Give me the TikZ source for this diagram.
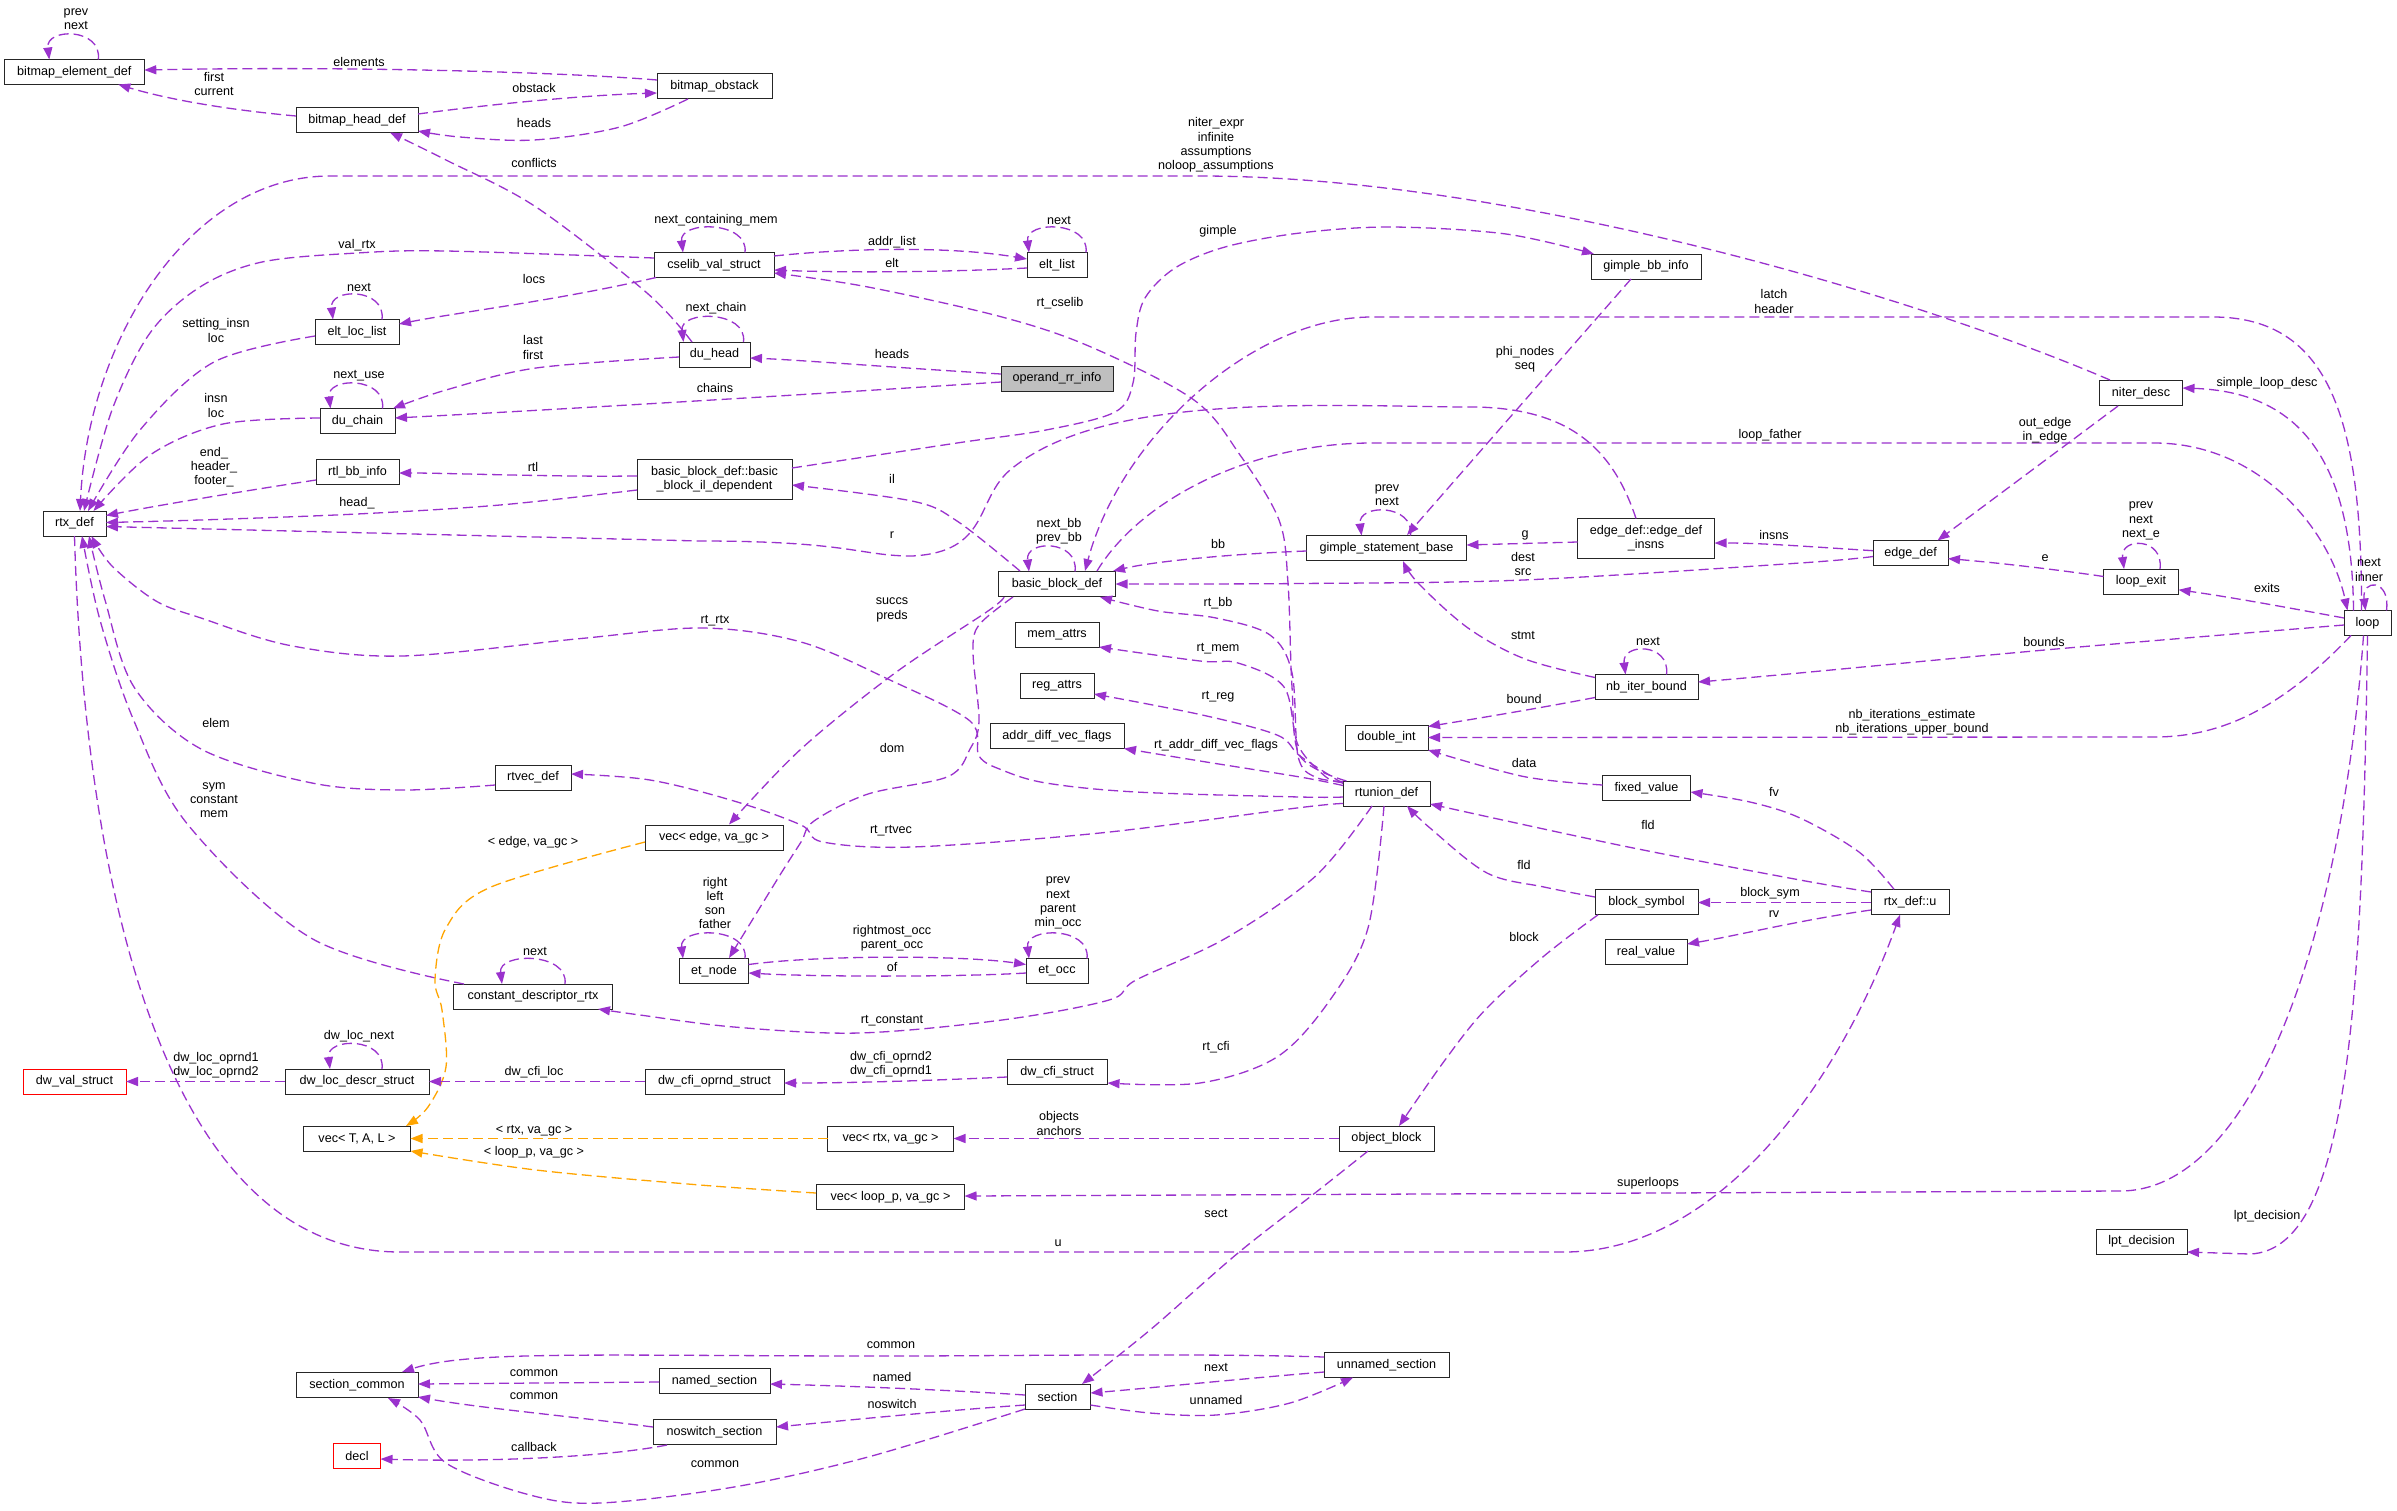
\documentclass[tikz,border=0pt]{standalone}
\usepackage{fontspec}
\setmainfont{Liberation Sans}
\usetikzlibrary{arrows.meta}
\definecolor{pc}{HTML}{9A32CD}
\definecolor{oc}{HTML}{FFA500}
\newcommand\nfont{\fontsize{12.6}{14.2}\selectfont}
\begin{document}
\begin{tikzpicture}[x=1pt,y=-1pt,
 box/.style={draw=black!85, line width=1pt, fill=white, minimum height=25pt, inner sep=0pt, font=\nfont, align=center},
 box2/.style={box, minimum height=40pt},
 pe/.style={draw=pc, line width=1.3pt, dash pattern=on 10pt off 5pt, -{Triangle[length=12pt,width=9pt]}},
 oe/.style={pe, draw=oc},
 lb/.style={font=\nfont, inner sep=0pt, align=center},
 sm/.style={smooth, tension=0.55}]
\useasboundingbox (0,0) rectangle (2397,1510);
\fill[white] (0,0) rectangle (2397,1510);
% ---------------- nodes
\node[box,minimum width=140pt] (bed) at (74.3,72) {bitmap\_element\_def};
\node[box,minimum width=122pt] (bhd) at (357,120) {bitmap\_head\_def};
\node[box,minimum width=115pt] (obst) at (714.5,86) {bitmap\_obstack};
\node[box,minimum width=120pt] (cselib) at (714,265) {cselib\_val\_struct};
\node[box,minimum width=60pt] (eltlist) at (1057,265) {elt\_list};
\node[box,minimum width=84pt] (eltloc) at (357,332) {elt\_loc\_list};
\node[box,minimum width=71pt] (duhead) at (714.5,354.5) {du\_head};
\node[box,minimum width=75pt] (duchain) at (357.5,421) {du\_chain};
\node[box,minimum width=112pt,fill={rgb,255:red,191;green,191;blue,191}] (opr) at (1057,378.5) {operand\_rr\_info};
\node[box,minimum width=83pt] (rtlbb) at (357.5,472) {rtl\_bb\_info};
\node[box2,minimum width=155pt] (bbil) at (714.5,479) {basic\_block\_def::basic\\\_block\_il\_dependent};
\node[box,minimum width=63pt] (rtx) at (74.5,523.5) {rtx\_def};
\node[box,minimum width=110pt] (gbi) at (1646,266.5) {gimple\_bb\_info};
\node[box,minimum width=83pt] (niter) at (2141,393) {niter\_desc};
\node[box,minimum width=117pt] (bbd) at (1057,584) {basic\_block\_def};
\node[box,minimum width=160pt] (gsb) at (1386.5,548) {gimple\_statement\_base};
\node[box2,minimum width=137pt] (edi) at (1646,538.5) {edge\_def::edge\_def\\\_insns};
\node[box,minimum width=75pt] (edef) at (1910.5,553) {edge\_def};
\node[box,minimum width=75pt] (lexit) at (2141,581.5) {loop\_exit};
\node[box,minimum width=47pt] (loop) at (2367.5,623) {loop};
\node[box,minimum width=84pt] (mem) at (1057,634.5) {mem\_attrs};
\node[box,minimum width=74pt] (reg) at (1057,685.5) {reg\_attrs};
\node[box,minimum width=134pt] (adv) at (1057,736) {addr\_diff\_vec\_flags};
\node[box,minimum width=103pt] (nib) at (1646.5,687) {nb\_iter\_bound};
\node[box,minimum width=83pt] (dint) at (1386.5,737.5) {double\_int};
\node[box,minimum width=88pt] (fixv) at (1646.5,788) {fixed\_value};
\node[box,minimum width=87pt] (rtun) at (1386.5,793.5) {rtunion\_def};
\node[box,minimum width=76pt] (rtvec) at (533,777.5) {rtvec\_def};
\node[box,minimum width=138pt] (vedge) at (714,837.5) {vec< edge, va\_gc >};
\node[box,minimum width=103pt] (bsym) at (1646.5,902) {block\_symbol};
\node[box,minimum width=78pt] (rtxu) at (1910,902) {rtx\_def::u};
\node[box,minimum width=82pt] (realv) at (1646,952) {real\_value};
\node[box,minimum width=69pt] (etn) at (714,971) {et\_node};
\node[box,minimum width=62pt] (eto) at (1057,971) {et\_occ};
\node[box,minimum width=159pt] (cdr) at (533,996.5) {constant\_descriptor\_rtx};
\node[box,minimum width=103pt,draw=red] (dvs) at (74.5,1081.5) {dw\_val\_struct};
\node[box,minimum width=144pt] (dlds) at (357,1081.5) {dw\_loc\_descr\_struct};
\node[box,minimum width=139pt] (dcos) at (714.5,1081.5) {dw\_cfi\_oprnd\_struct};
\node[box,minimum width=100pt] (dcs) at (1057,1072) {dw\_cfi\_struct};
\node[box,minimum width=107pt] (vtal) at (357,1138.5) {vec< T, A, L >};
\node[box,minimum width=126pt] (vrtx) at (890.5,1138.5) {vec< rtx, va\_gc >};
\node[box,minimum width=95pt] (oblk) at (1386.5,1138.5) {object\_block};
\node[box,minimum width=148pt] (vloop) at (890.5,1197) {vec< loop\_p, va\_gc >};
\node[box,minimum width=91pt] (lpt) at (2141.5,1241.5) {lpt\_decision};
\node[box,minimum width=125pt] (usec) at (1386.5,1365) {unnamed\_section};
\node[box,minimum width=111pt] (nsec) at (714.5,1381) {named\_section};
\node[box,minimum width=122pt] (scom) at (357,1385) {section\_common};
\node[box,minimum width=65pt] (sec) at (1057.5,1397) {section};
\node[box,minimum width=123pt] (nssec) at (714.5,1432) {noswitch\_section};
\node[box,minimum width=47pt,draw=red] (decl) at (357,1456) {decl};
% ---------------- self loops
\draw[pe] ([shift={(24,-12.5)}]bed.center) .. controls +(4,-32) and +(-4,-32) .. ([shift={(-25,-12.5)}]bed.center);
\draw[pe] ([shift={(31,-12.5)}]cselib.center) .. controls +(4,-32) and +(-4,-32) .. ([shift={(-31,-12.5)}]cselib.center);
\draw[pe] ([shift={(29,-12.5)}]eltlist.center) .. controls +(4,-32) and +(-4,-32) .. ([shift={(-28,-12.5)}]eltlist.center);
\draw[pe] ([shift={(25,-12.5)}]eltloc.center) .. controls +(4,-32) and +(-4,-32) .. ([shift={(-24,-12.5)}]eltloc.center);
\draw[pe] ([shift={(29,-12.5)}]duhead.center) .. controls +(4,-32) and +(-4,-32) .. ([shift={(-31,-12.5)}]duhead.center);
\draw[pe] ([shift={(25,-12.5)}]duchain.center) .. controls +(4,-32) and +(-4,-32) .. ([shift={(-27,-12.5)}]duchain.center);
\draw[pe] ([shift={(18,-12.5)}]bbd.center) .. controls +(4,-32) and +(-4,-32) .. ([shift={(-28,-12.5)}]bbd.center);
\draw[pe] ([shift={(24,-12.5)}]gsb.center) .. controls +(4,-32) and +(-4,-32) .. ([shift={(-25,-12.5)}]gsb.center);
\draw[pe] ([shift={(20,-12.5)}]nib.center) .. controls +(4,-32) and +(-4,-32) .. ([shift={(-21,-12.5)}]nib.center);
\draw[pe] ([shift={(19,-12.5)}]lexit.center) .. controls +(4,-32) and +(-4,-32) .. ([shift={(-17,-12.5)}]lexit.center);
\draw[pe] ([shift={(19,-12.5)}]loop.center) .. controls +(4,-32) and +(-4,-32) .. ([shift={(-2,-12.5)}]loop.center);
\draw[pe] ([shift={(31,-12.5)}]etn.center) .. controls +(4,-32) and +(-4,-32) .. ([shift={(-31,-12.5)}]etn.center);
\draw[pe] ([shift={(30,-12.5)}]eto.center) .. controls +(4,-32) and +(-4,-32) .. ([shift={(-28,-12.5)}]eto.center);
\draw[pe] ([shift={(32,-12.5)}]cdr.center) .. controls +(4,-32) and +(-4,-32) .. ([shift={(-31,-12.5)}]cdr.center);
\draw[pe] ([shift={(25,-12.5)}]dlds.center) .. controls +(4,-32) and +(-4,-32) .. ([shift={(-27,-12.5)}]dlds.center);
% ---------------- edges
\draw[pe] ([shift={(-57.5,-6)}]obst.center) .. controls (560,72) and (350,66) .. ([shift={(70,-2)}]bed.center);
\draw[pe] ([shift={(-61,-4)}]bhd.center) .. controls (230,110) and (170,100) .. ([shift={(44,12.5)}]bed.center);
\draw[pe] ([shift={(61,-6)}]bhd.center) .. controls (500,103) and (590,95) .. ([shift={(-57.5,7)}]obst.center);
\draw[pe] plot[sm] coordinates {([shift={(-26.5,13)}]obst.center) (620,127) (534,140) (460,137) ([shift={(61,11)}]bhd.center)};
\draw[pe] plot[sm] coordinates {([shift={(-22.5,-12.5)}]duhead.center) (647,293) (536,207) (446,160) ([shift={(33,12.5)}]bhd.center)};
\draw[pe] ([shift={(-31,-13)}]niter.center) .. controls (1900,290) and (1500,176) .. (1200,176) -- (330,176) .. controls (190,176) and (88,340) .. ([shift={(5.5,-12.5)}]rtx.center);
\draw[pe] plot[sm] coordinates {([shift={(-60,-7)}]cselib.center) (446,251) (357,253) (262,262) (200,287) (150,333) (112,410) ([shift={(9.5,-12.5)}]rtx.center)};
\draw[pe] ([shift={(60,-9)}]cselib.center) .. controls (850,248) and (950,246) .. ([shift={(-30,-6)}]eltlist.center);
\draw[pe] ([shift={(-30,3)}]eltlist.center) .. controls (950,272) and (850,273) .. ([shift={(60,5)}]cselib.center);
\draw[pe] ([shift={(-58,12.5)}]cselib.center) .. controls (560,300) and (460,312) .. ([shift={(42,-8)}]eltloc.center);
\draw[pe] plot[sm] coordinates {([shift={(-42,4)}]eltloc.center) (214,362) (140,430) ([shift={(13.5,-12.5)}]rtx.center)};
\draw[pe] plot[sm] coordinates {([shift={(-35.5,2.5)}]duhead.center) (536,368) (446,390) ([shift={(35.5,-12.5)}]duchain.center)};
\draw[pe] plot[sm] coordinates {([shift={(-37.5,-3)}]duchain.center) (223,424) (150,455) ([shift={(19,-12.5)}]rtx.center)};
\draw[pe] ([shift={(-56,-4.5)}]opr.center) .. controls (900,368) and (800,360) .. ([shift={(35.5,3.5)}]duhead.center);
\draw[pe] ([shift={(-56,3.5)}]opr.center) .. controls (800,395) and (550,410) .. ([shift={(37.5,-3)}]duchain.center);
\draw[pe] ([shift={(-41.5,8)}]rtlbb.center) .. controls (250,490) and (160,505) .. ([shift={(31.5,-8)}]rtx.center);
\draw[pe] ([shift={(-77.5,-3)}]bbil.center) .. controls (550,477) and (450,473) .. ([shift={(41.5,1)}]rtlbb.center);
\draw[pe] plot[sm] coordinates {([shift={(-77.5,11)}]bbil.center) (500,505) (357,514) (200,520) ([shift={(31.5,-1)}]rtx.center)};
\draw[pe] ([shift={(-10,-20)}]edi.center) .. controls (1610,440) and (1560,405) .. (1460,407) .. controls (1300,405) and (1100,395) .. (1010,470) .. controls (975,500) and (990,552) .. (912,556) .. controls (860,556) and (850,541) .. (700,541) -- ([shift={(31.5,3)}]rtx.center);
\draw[pe] plot[sm] coordinates {([shift={(77.5,-11)}]bbil.center) (957,443) (1046,430) (1115,412) (1133,383) (1136,333) (1145,298) (1175,268) (1225,247) (1300,233) (1391,227) (1506,234) ([shift={(-52,-12.5)}]gbi.center)};
\draw[pe] plot[sm] coordinates {([shift={(-37,-13)}]bbd.center) (957,521) (912,501) ([shift={(77.5,6)}]bbil.center)};
\draw[pe] ([shift={(-6,-12.5)}]loop.center) .. controls (2362,420) and (2330,317) .. (2213,317) -- (1372,317) .. controls (1250,317) and (1120,440) .. ([shift={(28,-13)}]bbd.center);
\draw[pe] ([shift={(40,-13)}]bbd.center) .. controls (1140,500) and (1250,443) .. (1372,443) -- (2154,443) .. controls (2260,443) and (2330,530) .. ([shift={(-20,-12.5)}]loop.center);
\draw[pe] plot[sm] coordinates {([shift={(-37.5,3.5)}]edef.center) (1800,563) (1523,580) (1300,583.5) ([shift={(58.5,0)}]bbd.center)};
\draw[pe] ([shift={(-37.5,-2.3)}]edef.center) .. controls (1800,546) and (1760,543) .. ([shift={(68.5,4.5)}]edi.center);
\draw[pe] ([shift={(-80,3)}]gsb.center) .. controls (1250,553) and (1160,560) .. ([shift={(56,-13)}]bbd.center);
\draw[pe] plot[sm] coordinates {([shift={(-43.5,-12)}]rtun.center) (1315,777) (1298,756) (1292,673) (1270,635) (1216,618) (1158,611) ([shift={(43,13)}]bbd.center)};
\draw[pe] plot[sm] coordinates {([shift={(-43.5,-11)}]rtun.center) (1326,777) (1298,745) (1284,687) (1238,663) (1200,661) ([shift={(42,12.5)}]mem.center)};
\draw[pe] plot[sm] coordinates {([shift={(-43.5,-10)}]rtun.center) (1300,756) (1277,735) (1200,714.5) ([shift={(37,8.5)}]reg.center)};
\draw[pe] plot[sm] coordinates {([shift={(-43.5,-8)}]rtun.center) (1300,777) (1200,761) ([shift={(67,12.5)}]adv.center)};
\draw[pe] plot[sm] coordinates {([shift={(-43.5,3.5)}]rtun.center) (1300,797) (1136,792) (1046,783) (1002,770) (979,756) (970,721) (890,680) (801,642) (703,628) (580,638.6) (402,656) (290,645.5) (201,618) (156,601) (112,566) ([shift={(17,12.5)}]rtx.center)};
\draw[pe] plot[sm] coordinates {([shift={(-43.5,10)}]rtun.center) (1300,807.6) (1100,833) (912,847) (823,842) (801,825) (734,801) (650,780) ([shift={(38,-3.5)}]rtvec.center)};
\draw[pe] plot[sm] coordinates {([shift={(-14.5,12.5)}]rtun.center) (1315,876.6) (1225,938.6) (1136,980) (1109,1000) (1002,1020) (859,1033) (734,1027) (640,1015) ([shift={(65,12.5)}]cdr.center)};
\draw[pe] plot[sm] coordinates {([shift={(-2.5,12.5)}]rtun.center) (1368,928) (1330,1000) (1277,1057) (1200,1083) ([shift={(50.5,11)}]dcs.center)};
\draw[pe] plot[sm] coordinates {([shift={(-40,-12.5)}]rtun.center) (1300,756) (1292,687) (1288,583) (1279,520) (1240,455) (1194,400) (1091,347) (1002,317) (868,287) ([shift={(60,8)}]cselib.center)};
\draw[pe] plot[sm] coordinates {([shift={(-69,-12.5)}]cdr.center) (312,938.6) (188,824.8) (134,721) (100,620) ([shift={(7.5,12.5)}]rtx.center)};
\draw[pe] plot[sm] coordinates {([shift={(-38,7.5)}]rtvec.center) (402,790) (312,783) (201,749) (134,687) (105,600) ([shift={(14.5,12.5)}]rtx.center)};
\draw[pe] ([shift={(0,12.5)}]rtx.center) .. controls (85,900) and (170,1252) .. (400,1252) -- (1564,1252) .. controls (1720,1252) and (1840,1080) .. ([shift={(-10,12.8)}]rtxu.center);
\draw[pe] ([shift={(34.5,-6.5)}]etn.center) .. controls (820,955) and (960,955) .. ([shift={(-31,-6.5)}]eto.center);
\draw[pe] ([shift={(-31,2)}]eto.center) .. controls (960,977) and (820,977) .. ([shift={(34.5,2)}]etn.center);
\draw[pe] plot[sm] coordinates {([shift={(-53,13)}]bbd.center) (988,611) (895,673) (801,749) ([shift={(15,-13)}]vedge.center)};
\draw[pe] plot[sm] coordinates {([shift={(-44,13)}]bbd.center) (979,625) (973,652) (979,721) (970,749) (948,776.6) (868,794) (814,821) (801,842) (779,876.6) ([shift={(15,-13)}]etn.center)};
\draw[oe] plot[sm] coordinates {([shift={(-69,4.5)}]vedge.center) (491,887) (446,928) (435,980) (442,1010) (446,1067) (428,1107) ([shift={(49,-12.5)}]vtal.center)};
\draw[oe] ([shift={(-63,0)}]vrtx.center) -- ([shift={(53.5,0)}]vtal.center);
\draw[oe] plot[sm] coordinates {([shift={(-74.5,-4)}]vloop.center) (700,1185) (536,1170) ([shift={(53.5,12.5)}]vtal.center)};
\draw[pe] ([shift={(-72,0)}]dlds.center) -- ([shift={(51.5,0)}]dvs.center);
\draw[pe] ([shift={(-69.5,0)}]dcos.center) -- ([shift={(72,0)}]dlds.center);
\draw[pe] ([shift={(-50,5)}]dcs.center) .. controls (900,1082) and (830,1083) .. ([shift={(69.5,1.5)}]dcos.center);
\draw[pe] ([shift={(-47.5,0)}]oblk.center) -- ([shift={(63,0)}]vrtx.center);
\draw[pe] ([shift={(-4,12.5)}]loop.center) .. controls (2340,950) and (2250,1191) .. (2120,1191) -- ([shift={(74,-1)}]vloop.center);
\draw[pe] plot[sm] coordinates {([shift={(-18.5,12.5)}]oblk.center) (1315,1193) (1238,1253) (1150,1330) ([shift={(24.5,-13)}]sec.center)};
\draw[pe] plot[sm] coordinates {([shift={(-48.5,12.8)}]bsym.center) (1544,956) (1485,1010) (1445,1060) ([shift={(12.5,-12.5)}]oblk.center)};
\draw[pe] plot[sm] coordinates {([shift={(-51.5,-5)}]bsym.center) (1544,887) (1487,873) (1430,828) ([shift={(20.5,12.5)}]rtun.center)};
\draw[pe] plot[sm] coordinates {([shift={(-39,-10)}]rtxu.center) (1800,880) (1621,845.5) ([shift={(43.5,10.5)}]rtun.center)};
\draw[pe] ([shift={(-39,0.5)}]rtxu.center) -- ([shift={(51.5,0.5)}]bsym.center);
\draw[pe] ([shift={(-39,8)}]rtxu.center) .. controls (1800,920) and (1740,935) .. ([shift={(41,-8)}]realv.center);
\draw[pe] plot[sm] coordinates {([shift={(-16,-12.7)}]rtxu.center) (1859,852) (1800,818) (1750,802) ([shift={(44,4)}]fixv.center)};
\draw[pe] plot[sm] coordinates {([shift={(-44,-3)}]fixv.center) (1524,776.6) ([shift={(41.5,12.5)}]dint.center)};
\draw[pe] ([shift={(-51.5,10.5)}]nib.center) .. controls (1540,708) and (1480,718) .. ([shift={(41.5,-11)}]dint.center);
\draw[pe] ([shift={(-16.5,12.5)}]loop.center) .. controls (2280,710) and (2220,737) .. (2154,737) -- ([shift={(41.5,0)}]dint.center);
\draw[pe] plot[sm] coordinates {([shift={(-23.5,2)}]loop.center) (2056,649) (1780,674.8) ([shift={(51.5,-5)}]nib.center)};
\draw[pe] plot[sm] coordinates {([shift={(-51.5,-9.5)}]nib.center) (1525,659) (1468,628) (1418,583) ([shift={(16.5,13)}]gsb.center)};
\draw[pe] ([shift={(-15,12.5)}]gbi.center) -- ([shift={(20.5,-13)}]gsb.center);
\draw[pe] ([shift={(-68.5,3.5)}]edi.center) -- ([shift={(80,-3)}]gsb.center);
\draw[pe] ([shift={(-37.5,-5)}]lexit.center) .. controls (2060,570) and (2000,563) .. ([shift={(37.5,5.6)}]edef.center);
\draw[pe] ([shift={(-23.5,-5)}]loop.center) .. controls (2290,608) and (2230,597) .. ([shift={(37.5,8.3)}]lexit.center);
\draw[pe] ([shift={(-23,13)}]niter.center) -- ([shift={(27,-12.5)}]edef.center);
\draw[pe] ([shift={(-14,-12.5)}]loop.center) .. controls (2352,460) and (2300,392) .. ([shift={(41.5,-5)}]niter.center);
\draw[pe] ([shift={(0,12.5)}]loop.center) .. controls (2362,1000) and (2350,1250) .. (2250,1254) -- ([shift={(45.5,10.5)}]lpt.center);
\draw[pe] ([shift={(-62.5,-8)}]usec.center) .. controls (1200,1353) and (1000,1356) .. (891,1356) .. controls (600,1356) and (470,1350) .. ([shift={(45,-13)}]scom.center);
\draw[pe] ([shift={(-55.5,1)}]nsec.center) -- ([shift={(61,-1)}]scom.center);
\draw[pe] ([shift={(-61.5,-5)}]nssec.center) .. controls (560,1415) and (480,1408) .. ([shift={(61,12)}]scom.center);
\draw[pe] ([shift={(-47.5,13)}]nssec.center) .. controls (600,1458) and (480,1462) .. ([shift={(23.5,3)}]decl.center);
\draw[pe] plot[sm] coordinates {([shift={(-32.5,12)}]sec.center) (868,1457) (734,1487) (600,1503) (530,1495) (446,1463) (420,1420) ([shift={(31,13)}]scom.center)};
\draw[pe] ([shift={(-32.5,-2)}]sec.center) .. controls (950,1390) and (850,1386) .. ([shift={(55.5,3)}]nsec.center);
\draw[pe] ([shift={(-32.5,8)}]sec.center) .. controls (950,1410) and (850,1420) .. ([shift={(61.5,-5)}]nssec.center);
\draw[pe] ([shift={(-62.5,7)}]usec.center) .. controls (1250,1378) and (1150,1388) .. ([shift={(33,-4)}]sec.center);
\draw[pe] plot[sm] coordinates {([shift={(33,8)}]sec.center) (1150,1413) (1216,1415) (1290,1403) ([shift={(-33.5,12.5)}]usec.center)};
% ---------------- labels
\node[lb] (l1) at (359,62) {elements};
\node[lb] (l2) at (214,84) {first\\current};
\node[lb] (l3) at (534,88) {obstack};
\node[lb] (l4) at (534,123) {heads};
\node[lb] (l5) at (534,163) {conflicts};
\node[lb] (l6) at (1216,145) {niter\_expr\\infinite\\assumptions\\noloop\_assumptions};
\node[lb] (l7) at (357,245) {val\_rtx};
\node[lb] (l8) at (892,242) {addr\_list};
\node[lb] (l9) at (892,263) {elt};
\node[lb] (l10) at (534,279) {locs};
\node[lb] (l11) at (216,330.5) {setting\_insn\\loc};
\node[lb] (l12) at (533,347.5) {last\\first};
\node[lb] (l13) at (216,405.5) {insn\\loc};
\node[lb] (l14) at (892,354) {heads};
\node[lb] (l15) at (715,388) {chains};
\node[lb] (l16) at (214,467) {end\_\\header\_\\footer\_};
\node[lb] (l17) at (533,467) {rtl};
\node[lb] (l18) at (357,503) {head\_};
\node[lb] (l19) at (892,535) {r};
\node[lb] (l20) at (1218,231) {gimple};
\node[lb] (l21) at (892,479) {il};
\node[lb] (l22) at (1774,301.5) {latch\\header};
\node[lb] (l23) at (1770,435) {loop\_father};
\node[lb] (l24) at (1523,564) {dest\\src};
\node[lb] (l25) at (1774,535) {insns};
\node[lb] (l26) at (1218,544) {bb};
\node[lb] (l27) at (1218,603) {rt\_bb};
\node[lb] (l28) at (1218,649) {rt\_mem};
\node[lb] (l29) at (1218,697) {rt\_reg};
\node[lb] (l30) at (1216,745) {rt\_addr\_diff\_vec\_flags};
\node[lb] (l31) at (715,621) {rt\_rtx};
\node[lb] (l32) at (891,831) {rt\_rtvec};
\node[lb] (l33) at (892,1021) {rt\_constant};
\node[lb] (l34) at (1216,1047) {rt\_cfi};
\node[lb] (l35) at (1060,303) {rt\_cselib};
\node[lb] (l36) at (214,800) {sym\\constant\\mem};
\node[lb] (l37) at (216,723) {elem};
\node[lb] (l38) at (1058,1243) {u};
\node[lb] (l40) at (892,938) {rightmost\_occ\\parent\_occ};
\node[lb] (l41) at (892,967) {of};
\node[lb] (l42) at (892,610) {succs\\preds};
\node[lb] (l43) at (892,748) {dom};
\node[lb] (l44) at (533,842) {< edge, va\_gc >};
\node[lb] (l45) at (534,1131) {< rtx, va\_gc >};
\node[lb] (l46) at (534,1152) {< loop\_p, va\_gc >};
\node[lb] (l47) at (216,1065.5) {dw\_loc\_oprnd1\\dw\_loc\_oprnd2};
\node[lb] (l48) at (534,1072) {dw\_cfi\_loc};
\node[lb] (l49) at (891,1064.5) {dw\_cfi\_oprnd2\\dw\_cfi\_oprnd1};
\node[lb] (l50) at (1059,1123.5) {objects\\anchors};
\node[lb] (l51) at (1648,1183) {superloops};
\node[lb] (l52) at (1216,1213) {sect};
\node[lb] (l53) at (1524,937) {block};
\node[lb] (l54) at (1524,864.5) {fld};
\node[lb] (l55) at (1648,825) {fld};
\node[lb] (l56) at (1770,893) {block\_sym};
\node[lb] (l57) at (1774,914) {rv};
\node[lb] (l58) at (1774,792) {fv};
\node[lb] (l59) at (1524,763) {data};
\node[lb] (l60) at (1524,699) {bound};
\node[lb] (l61) at (1912,722) {nb\_iterations\_estimate\\nb\_iterations\_upper\_bound};
\node[lb] (l62) at (2044,642) {bounds};
\node[lb] (l63) at (1523,635) {stmt};
\node[lb] (l64) at (1525,359.5) {phi\_nodes\\seq};
\node[lb] (l65) at (1525,535) {g};
\node[lb] (l66) at (2045,558.6) {e};
\node[lb] (l67) at (2267,587.6) {exits};
\node[lb] (l68) at (2045,430) {out\_edge\\in\_edge};
\node[lb] (l69) at (2267,383) {simple\_loop\_desc};
\node[lb] (l71) at (2267,1216) {lpt\_decision};
\node[lb] (l73) at (891,1345) {common};
\node[lb] (l74) at (534,1373) {common};
\node[lb] (l75) at (534,1396) {common};
\node[lb] (l76) at (534,1447) {callback};
\node[lb] (l77) at (715,1464) {common};
\node[lb] (l78) at (892,1377) {named};
\node[lb] (l79) at (892,1404) {noswitch};
\node[lb] (l80) at (1216,1367) {next};
\node[lb] (l81) at (1216,1400) {unnamed};
\node[lb] (s1) at (76,19.5) {prev\\next};
\node[lb] (s2) at (716,220) {next\_containing\_mem};
\node[lb] (s3) at (1059,220) {next};
\node[lb] (s4) at (359,287) {next};
\node[lb] (s5) at (716,308) {next\_chain};
\node[lb] (s6) at (359,376) {next\_use};
\node[lb] (s7) at (1059,531.5) {next\_bb\\prev\_bb};
\node[lb] (s8) at (1387,495) {prev\\next};
\node[lb] (s9) at (1648,641) {next};
\node[lb] (s10) at (2141,521) {prev\\next\\next\_e};
\node[lb] (s11) at (2369,570) {next\\inner};
\node[lb] (s12) at (715,903) {right\\left\\son\\father};
\node[lb] (s13) at (1058,903) {prev\\next\\parent\\min\_occ};
\node[lb] (s14) at (535,951) {next};
\node[lb] (s15) at (359,1036) {dw\_loc\_next};
\end{tikzpicture}
\end{document}
